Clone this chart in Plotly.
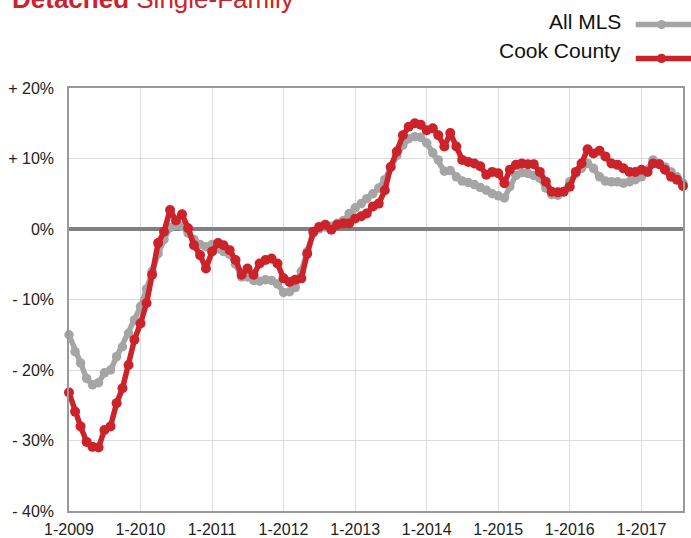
import plotly.graph_objects as go
import pandas as pd

months = pd.date_range("2009-01-01", "2017-08-01", freq="MS")

all_mls = [
    -15.0, -17.4, -19.0, -21.2, -22.1, -21.8, -20.4, -20.0, -18.1, -16.7, -14.8, -12.9,
    -11.0, -8.5, -6.0, -3.5, -1.5, 0.2, 0.5, 0.4, -0.6, -1.5, -2.2, -2.5,
    -2.2, -2.8, -3.2, -3.6, -5.0, -6.8, -6.8, -7.3, -7.4, -7.2, -7.3, -7.8,
    -9.0, -8.9, -8.3, -6.0, -3.2, -0.6, 0.0, 0.3, 0.4, 0.8, 1.2, 2.2,
    3.0, 3.6, 4.3, 5.0, 5.8, 7.0, 8.8, 10.4, 11.9, 12.8, 13.1, 13.0,
    12.2, 10.8, 9.8, 8.2, 8.3, 7.4, 6.8, 6.6, 6.3, 5.9, 5.5, 5.0,
    4.7, 4.4, 6.0, 7.6, 8.0, 7.9, 7.6, 7.2, 5.8, 4.9, 4.8, 5.3,
    6.7, 7.9, 8.6, 9.3, 8.6, 7.4, 6.8, 6.7, 6.7, 6.5, 6.7, 7.0,
    7.4, 8.4, 9.8, 9.3, 8.8, 8.1, 7.4, 6.5,
]

cook_county = [
    -23.2, -25.9, -28.0, -30.2, -30.9, -31.0, -28.5, -28.0, -24.7, -22.6, -19.3, -15.7,
    -13.4, -10.5, -6.5, -2.0, -0.4, 2.7, 1.2, 2.1, 0.1, -2.3, -3.7, -5.6,
    -3.2, -2.0, -2.3, -3.0, -4.4, -6.5, -5.6, -6.5, -4.9, -4.4, -4.2, -4.9,
    -7.0, -7.5, -7.2, -7.0, -3.5, -0.4, 0.3, 0.6, -0.1, 0.6, 0.8, 0.8,
    1.5, 1.8, 2.2, 3.2, 3.6, 5.5, 8.8, 11.0, 13.3, 14.5, 15.0, 14.8,
    14.0, 14.3, 13.3, 11.7, 13.6, 11.7, 9.8, 9.5, 9.3, 8.9, 7.7, 8.1,
    7.9, 6.5, 8.4, 9.1, 9.3, 9.2, 9.2, 8.1, 6.7, 5.3, 5.2, 5.3,
    6.0, 8.1, 9.3, 11.3, 10.7, 11.1, 10.3, 9.3, 9.1, 8.6, 8.1, 8.1,
    8.4, 8.1, 9.3, 9.2, 8.4, 7.4, 7.0, 6.1,
]

series_names = ["All MLS", "Cook County"]
y_ticks = [20, 10, 0, -10, -20, -30, -40]
y_tick_labels = ["+ 20%", "+ 10%", "0%", "- 10%", "- 20%", "- 30%", "- 40%"]
x_ticks = pd.date_range("2009-01-01", "2017-01-01", freq="YS")
x_tick_labels = [f"1-{d.year}" for d in x_ticks]

GRAY = "#a5a5a5"
RED = "#cc2229"
FONT = "Liberation Sans, Arial, Helvetica, sans-serif"

fig = go.Figure()
fig.add_trace(go.Scatter(
    x=months, y=all_mls, name=series_names[0], mode="lines+markers",
    line=dict(color=GRAY, width=5.5), marker=dict(color=GRAY, size=9.5),
    cliponaxis=False, showlegend=False,
))
fig.add_trace(go.Scatter(
    x=months, y=cook_county, name=series_names[1], mode="lines+markers",
    line=dict(color=RED, width=5.5), marker=dict(color=RED, size=10),
    cliponaxis=False, showlegend=False,
))

# title (partially cut at the top, as in the reference)
fig.add_annotation(text="<b>Detached</b> Single-Family", xref="paper", yref="paper",
                   x=-0.096, y=1.2115, xanchor="left", yanchor="middle", showarrow=False,
                   font=dict(family=FONT, size=26, color=RED))

# custom legend (label left, line sample right)
leg = [(series_names[0], GRAY, 1.158, 1.150), (series_names[1], RED, 1.088, 1.070)]
for name, col, ty, ly in leg:
    fig.add_annotation(text=name, xref="paper", yref="paper", x=0.903, y=ty,
                       xanchor="right", yanchor="middle", showarrow=False,
                       font=dict(family=FONT, size=21, color="#111"))
    fig.add_shape(type="line", xref="paper", yref="paper", x0=0.923, x1=1.02,
                  y0=ly, y1=ly, line=dict(color=col, width=5.5))
    fig.add_shape(type="circle", xref="paper", yref="paper",
                  x0=0.9575, x1=0.9725, y0=ly - 0.011, y1=ly + 0.011,
                  fillcolor=col, line=dict(color=col, width=0))

fig.update_layout(
    width=691, height=538,
    margin=dict(l=69, r=8, t=88, b=27, autoexpand=False),
    paper_bgcolor="white", plot_bgcolor="white",
    font=dict(family=FONT, size=16, color="#222"),
    showlegend=False,
)
fig.update_xaxes(
    range=[months[0], months[-1]], automargin=False,
    tickvals=x_ticks, ticktext=x_tick_labels,
    showgrid=True, gridcolor="#dcdcdc", gridwidth=1,
    showline=True, linecolor="#999", linewidth=1.5, mirror=True,
    ticks="", tickfont=dict(size=16, color="#222"), ticklabelstandoff=3,
    zeroline=False,
)
fig.update_yaxes(
    range=[-40, 20], automargin=False, tickvals=y_ticks, ticktext=y_tick_labels,
    showgrid=True, gridcolor="#dcdcdc", gridwidth=1,
    showline=True, linecolor="#999", linewidth=1.5, mirror=True,
    ticks="", tickfont=dict(size=16, color="#222"), ticklabelstandoff=10,
    zeroline=True, zerolinecolor="#808080", zerolinewidth=4,
)

fig.write_html("out.html", config={"displayModeBar": False},
               post_script="document.body.style.margin='0';document.body.style.overflow='hidden';")
